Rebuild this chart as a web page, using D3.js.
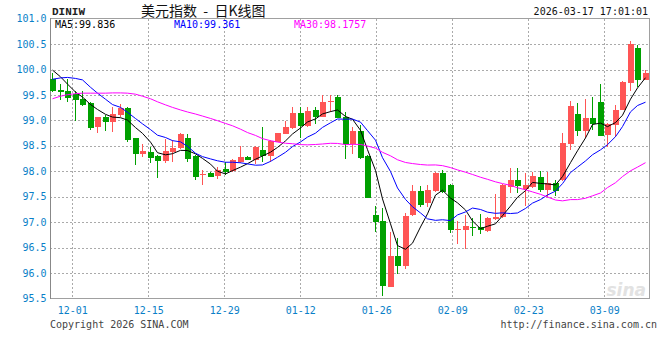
<!DOCTYPE html>
<html><head><meta charset="utf-8">
<script src="https://cdn.jsdelivr.net/npm/d3@7"></script>
<style>html,body{margin:0;padding:0;background:#fff;}svg{display:block;}</style>
</head><body><div id="chart"></div>
<script>
// ---- data ----
const categories = ["11-26","11-27","11-28","12-01","12-02","12-03","12-04","12-05","12-08","12-09","12-10","12-11","12-12","12-15","12-16","12-17","12-18","12-19","12-22","12-23","12-24","12-25","12-26","12-29","12-30","12-31","01-01","01-02","01-05","01-06","01-07","01-08","01-09","01-12","01-13","01-14","01-15","01-16","01-19","01-20","01-21","01-22","01-23","01-26","01-27","01-28","01-29","01-30","02-02","02-03","02-04","02-05","02-06","02-09","02-10","02-11","02-12","02-13","02-16","02-17","02-18","02-19","02-20","02-23","02-24","02-25","02-26","02-27","03-02","03-03","03-04","03-05","03-06","03-09","03-10","03-11","03-12","03-13","03-16","03-17"];
const open  = [99.81,99.59,99.57,99.52,99.42,99.35,98.87,99.07,98.97,99.10,99.25,98.65,98.35,98.37,98.30,98.20,98.38,98.45,98.66,98.30,97.93,97.97,97.91,98.04,98.01,98.19,98.29,98.22,98.42,98.31,98.58,98.73,98.85,99.15,98.89,99.20,99.07,99.37,99.46,99.06,98.54,98.80,98.30,97.14,97.03,95.73,96.34,96.13,97.14,97.61,97.38,97.61,97.97,97.74,96.84,96.84,96.91,96.90,96.82,97.06,97.10,97.70,97.83,97.66,97.70,97.88,97.63,97.78,97.83,98.54,99.12,98.80,99.04,99.36,98.71,98.91,99.20,99.74,100.42,99.79];
const high  = [99.93,99.71,99.82,99.57,99.57,99.37,99.07,99.10,99.27,99.32,99.27,98.65,98.53,98.47,98.32,98.63,98.61,98.75,98.73,98.32,98.03,97.99,98.09,98.18,98.24,98.50,98.30,98.50,98.87,98.61,98.76,98.99,99.27,99.27,99.27,99.27,99.51,99.51,99.51,99.16,98.87,98.91,98.32,97.31,97.27,96.80,96.69,97.18,97.73,97.71,97.74,97.99,98.03,97.76,97.03,97.14,97.08,97.16,97.11,97.55,97.76,98.07,98.07,97.97,97.99,98.01,97.98,97.83,98.75,99.38,99.35,99.42,99.46,99.71,98.94,99.30,99.78,100.56,100.48,99.99];
const low   = [99.55,99.41,99.36,98.99,99.28,98.82,98.76,98.79,98.78,99.07,98.58,98.12,98.29,98.16,97.86,98.16,98.18,98.44,98.19,97.83,97.73,97.88,97.85,97.93,97.98,98.16,98.22,98.14,98.19,98.18,98.57,98.73,98.84,98.65,98.87,98.93,99.06,99.17,99.04,98.24,98.35,98.25,97.48,96.80,95.54,95.73,95.99,96.08,97.13,97.29,97.29,97.60,97.57,96.78,96.57,96.47,96.72,96.77,96.80,97.04,97.08,97.57,97.58,97.32,97.67,97.60,97.50,97.52,97.81,98.42,98.69,98.65,98.81,98.69,98.48,98.68,99.20,99.58,99.66,99.79];
const close = [99.58,99.56,99.45,99.40,99.31,98.85,99.07,98.97,99.13,99.25,98.61,98.34,98.40,98.27,98.21,98.40,98.45,98.73,98.25,97.89,97.95,97.89,98.03,97.98,98.22,98.29,98.23,98.47,98.30,98.59,98.76,98.87,99.15,98.89,99.18,99.06,99.36,99.38,99.05,98.54,98.79,98.27,97.48,97.01,95.74,96.34,96.13,97.12,97.61,97.33,97.63,97.97,97.60,96.84,96.86,96.93,96.89,96.84,97.08,97.10,97.73,97.83,97.71,97.73,97.91,97.63,97.78,97.61,98.55,99.28,98.80,99.04,98.93,98.69,98.93,99.20,99.76,100.51,99.79,99.94];
// closes before the visible window (estimated, needed for the moving averages)
const priorCloses = [98.06,98.55,98.80,99.01,98.85,99.07,98.97,98.98,99.25,98.76,98.94,99.60,99.77,100.01,100.20,99.95,100.23,99.45,99.09,99.15,99.30,99.35,99.60,99.60,100.30,100.22,100.17,100.18,99.80];
const maPeriods = [5, 10, 30];
const maLegend = ["MA5:99.836", "MA10:99.361", "MA30:98.1757"];
const yTicks = [101.0,100.5,100.0,99.5,99.0,98.5,98.0,97.5,97.0,96.5,96.0,95.5];
const xTickLabels = ["12-01","12-15","12-29","01-12","01-26","02-09","02-23","03-09"];
const symbol = "DINIW";
const title = "美元指数 - 日K线图";
const timestamp = "2026-03-17 17:01:01";

// ---- layout ----
const W = 660, H = 360;
const L = 50, R = 650, T = 18.7, B = 298.5;
const RED = "#ff5555", GREEN = "#00a000";
const mono = "'DejaVu Sans Mono', monospace";
const axisBlue = "#0a7fc8";

const svg = d3.select("#chart").append("svg").attr("width", W).attr("height", H)
  .style("font-family", mono);

const x = d3.scaleBand().domain(categories).range([L, R]).paddingInner(0).paddingOuter(0);
const y = d3.scaleLinear().domain([95.5, 101.0]).range([B, T]);
const gx = d3.scaleLinear()
  .domain([categories.indexOf(xTickLabels[0]), categories.indexOf(xTickLabels[xTickLabels.length-1])])
  .range([72.3, 604.3]);
const bodyW = 6;
const sx = c => Math.round(x(c));

// grid
const grid = svg.append("g").attr("stroke", "#aaa").attr("stroke-dasharray", "2,2").attr("shape-rendering", "crispEdges");
yTicks.filter(v => v > 95.5 && v < 101).forEach(v => {
  const yy = Math.round(y(v)) + 0.5;
  grid.append("line").attr("x1", L).attr("x2", R).attr("y1", yy).attr("y2", yy);
});
xTickLabels.forEach(lbl => {
  const xx = Math.round(gx(categories.indexOf(lbl))) + 0.5;
  grid.append("line").attr("x1", xx).attr("x2", xx).attr("y1", 19).attr("y2", 298);
});

// frame
svg.append("rect").attr("x", L + 0.5).attr("y", 18.5).attr("width", R - L - 1).attr("height", 280)
  .attr("fill", "none").attr("stroke", "#a0a0a0").attr("shape-rendering", "crispEdges");
svg.append("line").attr("x1", L + 0.5).attr("x2", L + 0.5).attr("y1", 18).attr("y2", 299)
  .attr("stroke", "#888").attr("shape-rendering", "crispEdges");

// watermark
svg.append("text").attr("x", 646).attr("y", 296).attr("text-anchor", "end")
  .attr("font-family", "'DejaVu Sans', sans-serif").attr("font-style", "italic").attr("font-weight", "bold")
  .attr("font-size", 17).attr("fill", "#e2e2e2").text("sina");

// candles
const data = categories.map((c, i) => ({c, o: open[i], h: high[i], l: low[i], cl: close[i]}));
const cg = svg.append("g").attr("shape-rendering", "crispEdges");
data.forEach(d => {
  const col = d.cl >= d.o ? RED : GREEN;
  const s = sx(d.c);
  const yh = Math.round(y(d.h)), yl = Math.round(y(d.l));
  cg.append("rect").attr("x", s + 2).attr("y", yh).attr("width", 1).attr("height", Math.max(1, yl - yh)).attr("fill", col);
  const yt = Math.round(y(Math.max(d.o, d.cl))), yb = Math.round(y(Math.min(d.o, d.cl)));
  cg.append("rect").attr("x", s).attr("y", yt).attr("width", bodyW).attr("height", Math.max(1, yb - yt)).attr("fill", col);
});

// moving averages
const all = priorCloses.concat(close);
const off = priorCloses.length;
const maColors = ["#000000", "#0000ff", "#ff00ff"];
maPeriods.forEach((p, k) => {
  const pts = close.map((_, i) => {
    const j = i + off;
    return d3.mean(all.slice(j - p + 1, j + 1));
  });
  const line = d3.line().x((_, i) => sx(categories[i]) + 2.5).y(v => y(v));
  svg.append("path").datum(pts).attr("d", line).attr("fill", "none")
    .attr("stroke", maColors[k]).attr("stroke-width", 1);
});

// legend
const legX = [55, 174, 294];
maLegend.forEach((t, k) => {
  svg.append("text").attr("x", legX[k]).attr("y", 27.5).attr("font-size", 10)
    .attr("fill", maColors[k]).text(t);
});

// y labels
yTicks.forEach(v => {
  svg.append("text").attr("x", 46.5).attr("y", y(v) + 3.5).attr("text-anchor", "end")
    .attr("font-size", 10).attr("fill", axisBlue).text(v.toFixed(1));
});
// x labels
xTickLabels.forEach(lbl => {
  svg.append("text").attr("x", gx(categories.indexOf(lbl)) + 0.5).attr("y", 313.5).attr("text-anchor", "middle")
    .attr("font-size", 10).attr("fill", axisBlue).text(lbl);
});

// header
svg.append("text").attr("x", 52).attr("y", 15).attr("font-family", "'Liberation Mono', monospace")
  .attr("font-weight", "bold").attr("font-size", 11).attr("fill", "#222").text(symbol);
svg.append("text").attr("x", 141).attr("y", 15.5).attr("font-family", "'Noto Sans CJK SC', sans-serif")
  .attr("font-size", 14).attr("fill", "#111").attr("xml:space", "preserve").text(title.replace(" - ", "  -  "));
svg.append("text").attr("x", 648).attr("y", 15).attr("text-anchor", "end")
  .attr("font-size", 10).attr("fill", "#111").text(timestamp);

// footer
svg.append("text").attr("x", 50).attr("y", 328).attr("font-size", 10).attr("fill", "#444").text("Copyright 2026 SINA.COM");
svg.append("text").attr("x", 657).attr("y", 328).attr("text-anchor", "end").attr("font-size", 10).attr("fill", "#444").text("http://finance.sina.com.cn");
</script></body></html>
